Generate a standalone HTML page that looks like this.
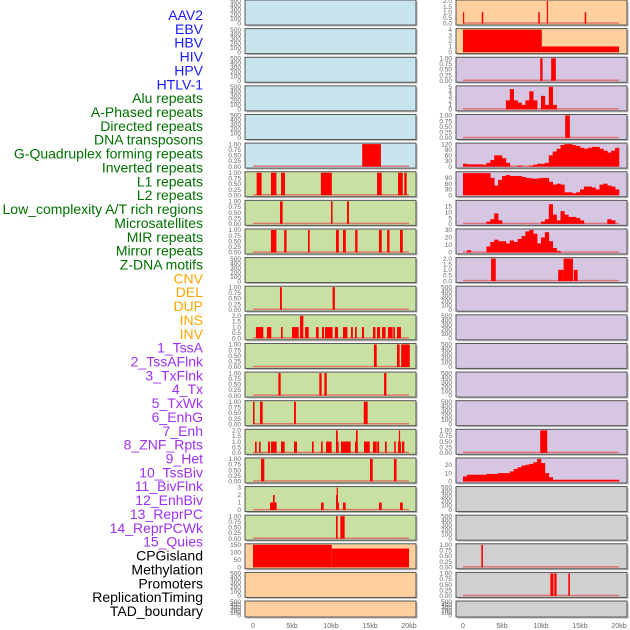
<!DOCTYPE html>
<html><head><meta charset="utf-8">
<style>
body{margin:0;background:#fff;width:630px;height:630px;overflow:hidden}
svg{position:absolute;left:0;top:0}
</style></head>
<body>
<svg id="chart" width="630" height="630" font-family="Liberation Sans, sans-serif"></svg>
<script>
// ---- data ----
const labelNames = ["AAV2","EBV","HBV","HIV","HPV","HTLV-1","Alu repeats","A-Phased repeats","Directed repeats","DNA transposons","G-Quadruplex forming repeats","Inverted repeats","L1 repeats","L2 repeats","Low_complexity A/T rich regions","Microsatellites","MIR repeats","Mirror repeats","Z-DNA motifs","CNV","DEL","DUP","INS","INV","1_TssA","2_TssAFlnk","3_TxFlnk","4_Tx","5_TxWk","6_EnhG","7_Enh","8_ZNF_Rpts","9_Het","10_TssBiv","11_BivFlnk","12_EnhBiv","13_ReprPC","14_ReprPCWk","15_Quies","CPGisland","Methylation","Promoters","ReplicationTiming","TAD_boundary"];
const labelGroups = [6,13,5,15,5];
const groupColors = ["#1a1aff","#007000","#ffa500","#a030f0","#000000"];
const xTickLabels = ["0","5kb","10kb","15kb","20kb"];
const xTickValues = [0,5,10,15,20];

const L5=[[14.0,16.4,1]];
const L6=[[0.47,1.1,1],[2.3,3.0,1],[3.6,4.1,1],[8.7,10.1,1],[15.9,16.5,1],[18.6,19.2,1],[19.4,19.7,1]];
const L7=[[3.46,3.8,1],[10.0,10.2,1],[12.05,12.3,1]];
const L8=[[2.3,3.0,1],[4.0,4.3,1],[7.05,7.27,1],[10.64,11.0,1],[11.54,11.9,1],[13.1,13.4,1],[16.15,16.5,1],[17.2,17.5,1],[18.85,19.2,1]];
const L10=[[3.46,3.7,1],[10.2,10.5,1]];
const L11=[[0.38,1.32,1],[1.79,2.35,1],[3.59,3.8,1],[5.0,5.86,1],[6.03,6.45,2],[6.67,7.14,1],[8.08,8.42,1],[8.85,9.1,1],[9.23,10.2,1],[10.5,10.9,1],[11.54,12.1,1],[12.56,12.8,1],[13.08,13.3,1],[13.97,14.23,1],[15.38,15.7,1],[15.9,16.3,1],[16.54,17.0,1],[17.3,17.9,1],[17.99,18.2,1],[18.46,18.97,1]];
const L12=[[15.5,15.86,1],[18.46,18.8,1],[19.0,20.1,1]];
const L13=[[3.25,3.55,1],[8.5,8.8,1],[9.15,9.45,1],[16.8,17.1,1]];
const L14=[[0,0.2,1],[0.9,1.24,1],[5.26,5.5,1],[14.2,14.7,1]];
const L15=[[0.26,0.47,1],[0.77,0.98,1],[1.92,2.18,1],[2.31,3.03,1],[3.59,4.06,1],[5.26,5.64,1],[7.56,7.78,1],[8.72,8.93,1],[9.36,10.08,1],[10.64,10.98,1],[10.64,10.86,2],[11.28,12.52,1],[13.08,13.42,1],[13.2,13.42,2],[14.23,14.96,1],[15.38,15.86,1],[15.92,16.17,1],[16.92,17.14,1],[18.1,18.3,1],[18.59,18.97,1],[18.7,18.8,2],[19.1,19.4,1]];
const L16=[[1.03,1.45,1],[15.0,15.35,1],[18.07,18.4,1]];
const L17=[[2.18,3.03,1],[2.56,2.78,2],[8.72,9.06,1],[10.64,10.86,2],[10.73,10.81,3],[10.86,10.98,1],[11.54,11.88,1],[16.15,16.5,1],[18.85,19.2,1]];
const L18=[[10.64,10.86,1],[11.2,11.75,1]];
const L19=[[0,10.1,150],[10.1,20,125]];

const R0=[[0,0.15,1],[2.4,2.6,1],[9.65,9.85,1],[10.75,10.9,2],[15.6,15.8,1]];
const R1=[[0,10.1,4],[10.1,20,1]];
const R2=[[9.9,10.2,1],[11.3,11.9,1]];
const R3=[0,0,0,0,0,0,0,0,0,0,0,2,4.5,2,1.5,1,2,4,2,0,3,1,5,1,0,0,0,0,0,0,0,0,0,0,0,0,0,0,0,0];
const R4=[[13.1,13.7,1]];
const R5=[15,12,12,12,12,10,20,35,60,60,45,20,0,0,5,0,0,5,10,15,15,20,60,80,95,115,120,120,115,110,100,95,100,105,105,95,85,75,85,100];
const R6=[115,115,115,115,115,115,115,90,50,80,100,105,100,100,100,95,90,88,85,88,90,90,70,55,60,55,15,15,10,15,30,45,45,40,30,55,60,50,45,30];
const R7=[0,0,0,0,0,0,2,4,9,3,0,0,0,0,0,0,0,0,0,0,2,4,17,8,3,11,8,6,6,5,3,0,0,0,0,0,0,4,3,0];
const R8=[0,3,0,0,0,0,8,14,17,15,15,12,16,14,18,22,28,30,25,12,20,27,15,6,2,0,0,0,0,0,0,0,0,0,0,0,0,0,0,0];
const R9=[[3.6,4.2,2],[12.2,12.9,1],[12.9,14.1,2],[14.2,14.7,1]];
const R15=[[9.9,10.8,1]];
const R16=[6,8,8,8,8,8,9,9,9,10,10,10,12,15,17,19,20,21,23,27,22,10,5,2,2,2,2,2,2,2,2,2,2,2,2,2,2,2,2,2];
const R19=[[2.35,2.55,1]];
const R20=[[11.2,11.6,1],[11.7,12.0,1],[13.5,13.7,1]];

const T500=[0,100,200,300,400,500], TUNIT=[0,0.25,0.5,0.75,1];
const leftRows=[
 {d:null},{d:null},{d:null},{d:null},{d:null},
 {d:L5,max:1,t:TUNIT,dec:2},{d:L6,max:1,t:TUNIT,dec:2},{d:L7,max:1,t:TUNIT,dec:2},{d:L8,max:1,t:TUNIT,dec:2},{d:null},
 {d:L10,max:1,t:TUNIT,dec:2},{d:L11,max:2,t:[0,0.5,1,1.5,2],dec:1},{d:L12,max:1,t:TUNIT,dec:2},{d:L13,max:1,t:TUNIT,dec:2},{d:L14,max:1,t:TUNIT,dec:2},
 {d:L15,max:2,t:[0,0.5,1,1.5,2],dec:1},{d:L16,max:1,t:TUNIT,dec:2},{d:L17,max:3,t:[0,1,2,3],dec:0},{d:L18,max:1,t:TUNIT,dec:2},{d:L19,max:150,t:[0,50,100,150],dec:0},
 {d:null},{d:null}];
const rightRows=[
 {d:R0,max:2,t:[0,0.5,1,1.5,2],dec:1},{d:R1,max:4,t:[0,1,2,3,4],dec:0},{d:R2,max:1,t:TUNIT,dec:2},{p:R3,max:5,t:[0,1,2,3,4,5],dec:0},{d:R4,max:1,t:TUNIT,dec:2},
 {p:R5,max:120,t:[0,30,60,90,120],dec:0},{p:R6,max:117,t:[0,30,60,90],dec:0},{p:R7,max:19.5,t:[0,5,10,15],dec:0},{p:R8,max:30,t:[0,10,20,30],dec:0},{d:R9,max:2,t:[0,0.5,1,1.5,2],dec:1},
 {d:null},{d:null},{d:null},{d:null},{d:null},
 {d:R15,max:1,t:TUNIT,dec:2},{p:R16,max:27,t:[0,10,20],dec:0},{d:null},{d:null},{d:R19,max:1,t:TUNIT,dec:2},
 {d:R20,max:1,t:TUNIT,dec:2},{d:null}];
const leftBg=i=>i<6?"#c8e4ec":(i<19?"#c8e0a2":"#ffd09e");
const rightBg=i=>i<2?"#ffd09e":(i<17?"#d6c6e2":"#d0d0d0");

// ---- drawing ----
const NS="http://www.w3.org/2000/svg";
const svg=document.getElementById("chart");
function mk(tag,attrs,parent){const e=document.createElementNS(NS,tag);for(const k in attrs)e.setAttribute(k,attrs[k]);(parent||svg).appendChild(e);return e;}

// labels
let li=0;
labelGroups.forEach((n,g)=>{for(let k=0;k<n;k++){
  const t=mk("text",{x:203,y:15+li*13.86+5,"text-anchor":"end","font-size":"14",fill:groupColors[g]});
  t.textContent=labelNames[li];
  
  
  li++;}});

const rowTop=i=>i*28.62;
function panel(colX0,zeroX,i,row,bg){
  const y0=rowTop(i), h=(i===21?16:25), w=171;
  const g=mk("g",{});
  
  
  mk("rect",{x:colX0+1.5,y:y0+1.5,width:w,height:h,fill:"#b8b8b8"},g);
  mk("rect",{x:colX0,y:y0,width:w,height:h,fill:bg,stroke:"#555",  "stroke-width":1},g);
  const xs=kb=>zeroX+kb*7.8;
  const max=row.max||500, ticks=row.t||T500, dec=row.dec||0;
  const ys=v=>y0+h-1.5-(v/max)*(h-2.5);
  ticks.forEach(v=>{
    const t=mk("text",{x:colX0-4,y:ys(v)+2.2,"text-anchor":"end","font-size":"6.5",fill:"#666"},g);
    t.textContent=v.toFixed(dec);
    
    
  });
  if(row.d||row.p){
    mk("rect",{x:xs(0),y:ys(0)-1.2,width:xs(20)-xs(0),height:1.5,fill:"#e06060",opacity:0.8},g);
  }
  if(row.d){row.d.forEach(s=>{
    const r=mk("rect",{x:xs(s[0]),y:ys(s[2]),width:Math.max(1.2,xs(s[1])-xs(s[0])),height:ys(0)-ys(s[2]),fill:"#ff0000"},g);
    
    
  });}
  if(row.p){row.p.forEach((v,k)=>{ if(v<=0)return;
    const r=mk("rect",{x:xs(k*0.5),y:ys(v),width:xs(0.5)-xs(0)+0.3,height:ys(0)-ys(v),fill:"#ff0000"},g);
    
    
  });}
}
leftRows.forEach((r,i)=>panel(245,253,i,r,leftBg(i)));
rightRows.forEach((r,i)=>panel(456,463,i,r,rightBg(i)));

// x axes
[253,463].forEach(z=>{xTickValues.forEach((v,k)=>{
  const t=mk("text",{x:z+v*7.8,y:628,"text-anchor":"middle","font-size":"7",fill:"#666"});
  t.textContent=xTickLabels[k];
  
  
});});
</script>
</body></html>
